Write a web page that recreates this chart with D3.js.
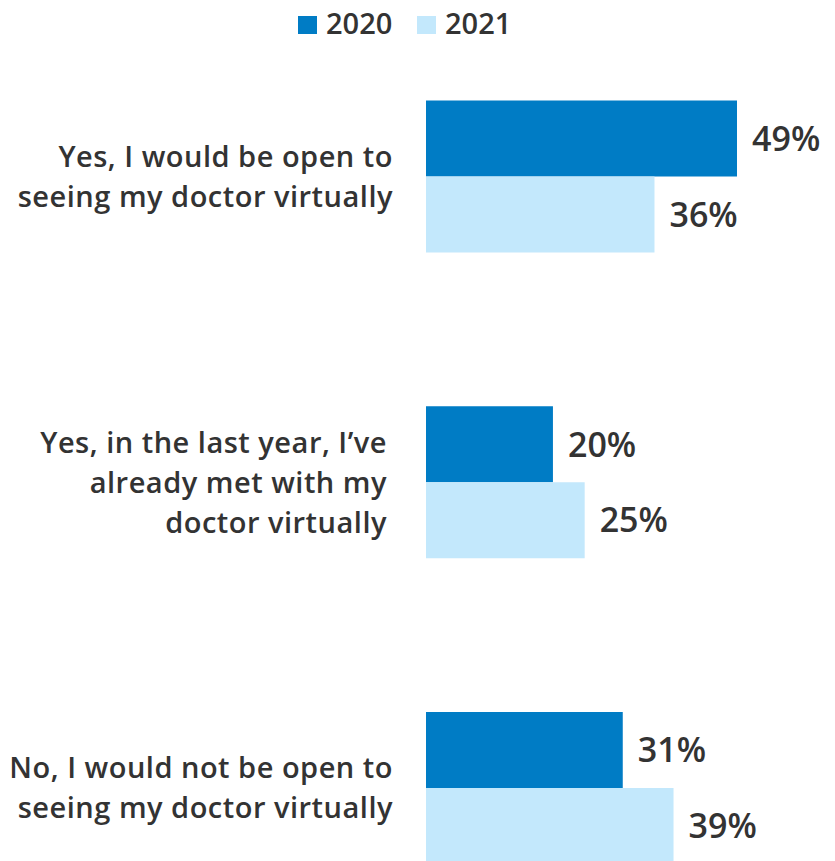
<!DOCTYPE html>
<html>
<head>
<meta charset="utf-8">
<script src="https://cdn.jsdelivr.net/npm/d3@7"></script>
<style>
  html, body { margin: 0; padding: 0; background: #fff; }
  svg { display: block; font-family: "Open Sans", sans-serif; }
</style>
</head>
<body>
<svg id="chart" width="835" height="861"></svg>
<script>
// Survey responses on virtual doctor visits
const categories = [
  ["Yes, I would be open to", "seeing my doctor virtually"],
  ["Yes, in the last year, I\u2019ve", "already met with my", "doctor virtually"],
  ["No, I would not be open to", "seeing my doctor virtually"]
];
const seriesNames = ["2020", "2021"];
const values2020 = [49, 20, 31];
const values2021 = [36, 25, 39];

const colors = { "2020": "#007cc5", "2021": "#c3e8fc" };
const textColor = "#333333";

const svg = d3.select("#chart");

const keys = categories.map((c, i) => "c" + i);
const data = keys.map((k, i) => ({
  key: k,
  lines: categories[i],
  values: [
    { series: "2020", value: values2020[i] },
    { series: "2021", value: values2021[i] }
  ]
}));

const x = d3.scaleLinear().domain([0, 49]).range([426, 737]);
const y = d3.scalePoint().domain(keys).range([176.5, 788]);
const inner = d3.scaleBand().domain(seriesNames).range([-76, 76]).padding(0);
const color = d3.scaleOrdinal().domain(seriesNames).range(seriesNames.map(s => colors[s]));

// Legend
const legend = svg.append("g").attr("class", "legend");
const legendX = [298, 417];
seriesNames.forEach((s, i) => {
  const g = legend.append("g").attr("transform", `translate(${legendX[i]},16)`);
  g.append("rect").attr("width", 19).attr("height", 18).attr("fill", color(s));
  g.append("text")
    .attr("x", 28).attr("y", 18)
    .attr("font-size", 29).attr("font-weight", 600)
    .attr("fill", textColor)
    .text(s);
});

// Groups
const groups = svg.selectAll("g.group")
  .data(data)
  .join("g")
  .attr("class", "group")
  .attr("transform", d => `translate(0,${y(d.key)})`);

groups.selectAll("rect")
  .data(d => d.values)
  .join("rect")
  .attr("x", x(0))
  .attr("y", d => inner(d.series))
  .attr("width", d => x(d.value) - x(0))
  .attr("height", inner.bandwidth())
  .attr("fill", d => color(d.series));

groups.selectAll("text.value")
  .data(d => d.values)
  .join("text")
  .attr("class", "value")
  .attr("x", d => x(d.value) + 15)
  .attr("y", d => inner(d.series) + inner.bandwidth() / 2)
  .attr("dy", "0.36em")
  .attr("font-size", 34)
  .attr("font-weight", 600)
  .attr("fill", textColor)
  .text(d => d.value + "%");

// Category labels, right-aligned next to the bars
const lineHeight = 40;
groups.each(function(d) {
  const g = d3.select(this);
  const n = d.lines.length;
  const right = n > 2 ? 387 : 393;
  const t = g.append("text")
    .attr("class", "label")
    .attr("text-anchor", "end")
    .attr("font-size", 29)
    .attr("font-weight", 600)
    .attr("letter-spacing", 0.5)
    .attr("fill", textColor);
  d.lines.forEach((line, j) => {
    t.append("tspan")
      .attr("x", right)
      .attr("y", (j - (n - 1) / 2) * lineHeight)
      .attr("dy", "0.36em")
      .text(line);
  });
});
</script>
</body>
</html>
